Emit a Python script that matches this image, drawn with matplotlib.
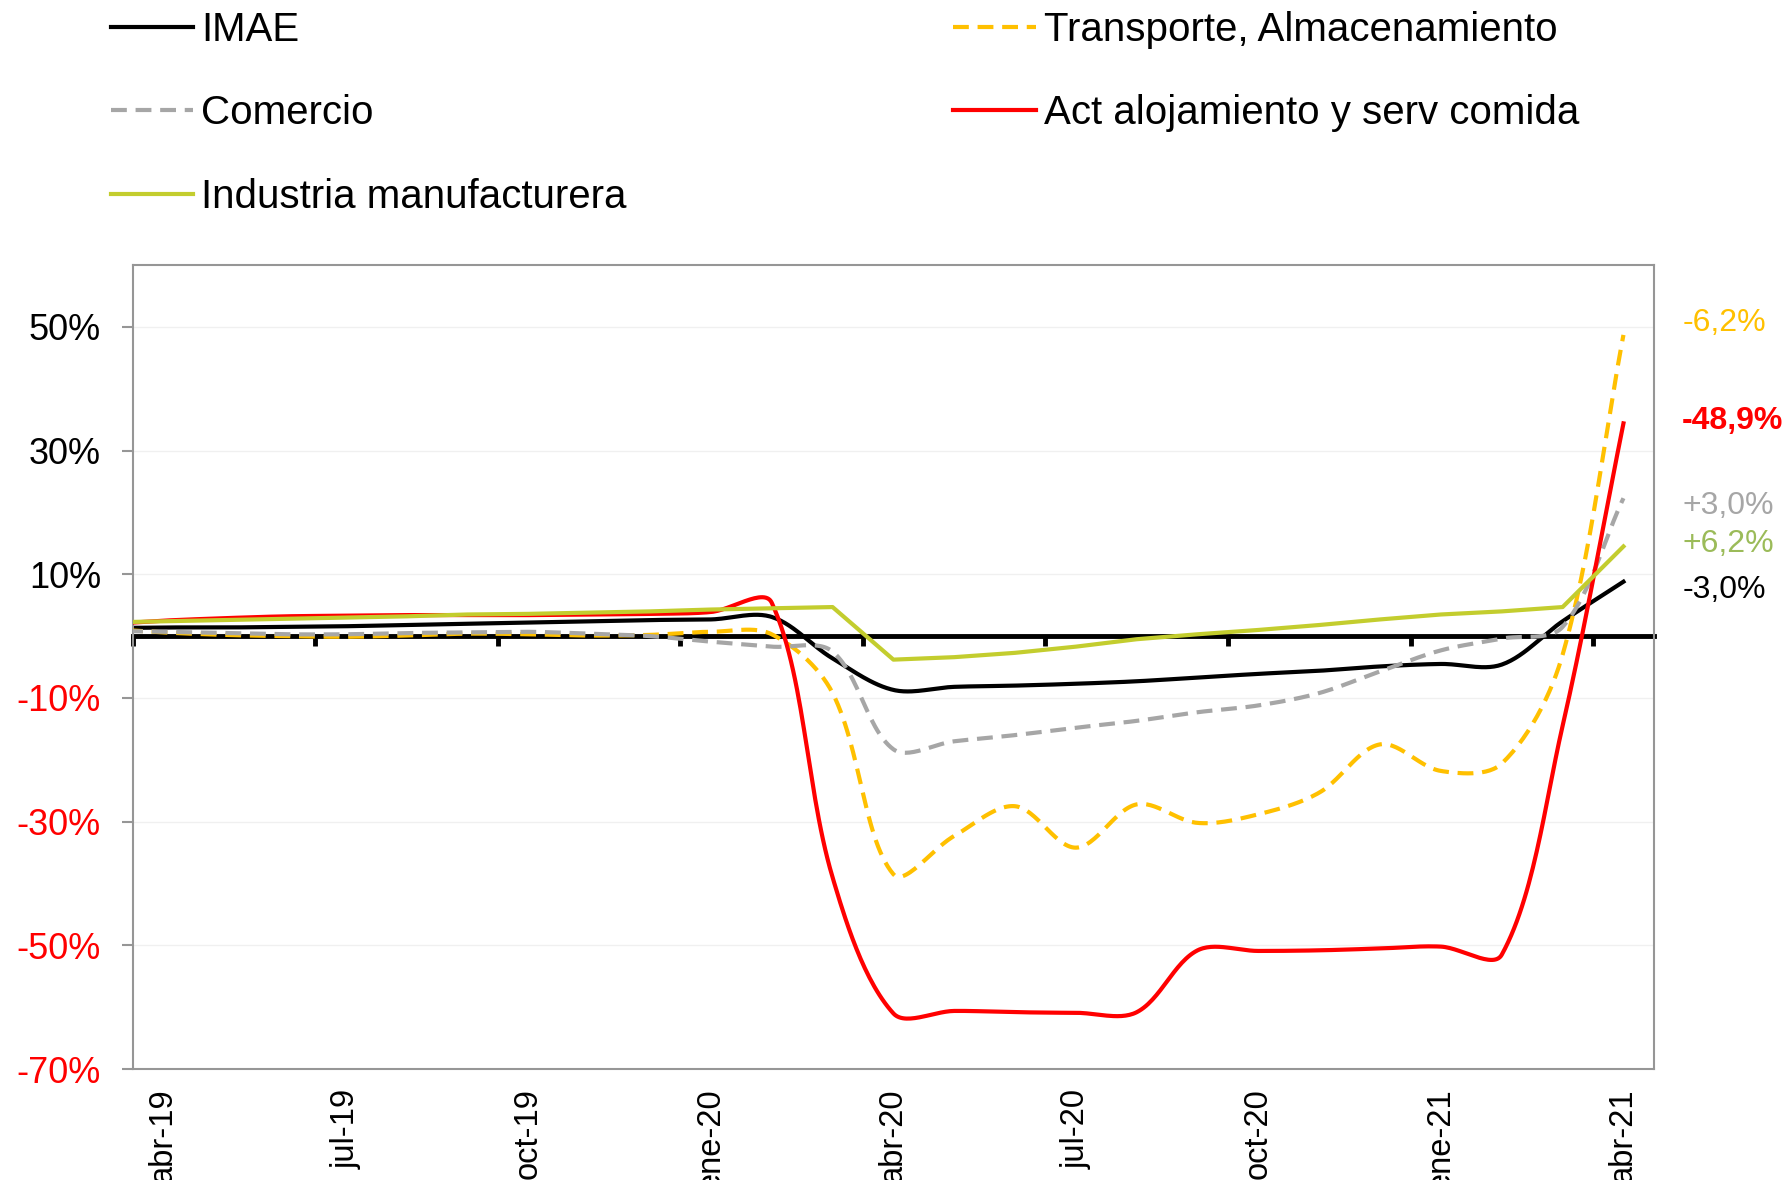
import matplotlib
matplotlib.use('Agg')
import matplotlib.pyplot as plt
import numpy as np

plt.rcParams['font.family'] = ['Liberation Sans', 'DejaVu Sans']

# meses (mar-19 queda fuera del eje, solo entra recortada por la izquierda)
meses = ['mar-19', 'abr-19', 'may-19', 'jun-19', 'jul-19', 'ago-19', 'sep-19', 'oct-19', 'nov-19',
         'dic-19', 'ene-20', 'feb-20', 'mar-20', 'abr-20', 'may-20', 'jun-20', 'jul-20', 'ago-20',
         'sep-20', 'oct-20', 'nov-20', 'dic-20', 'ene-21', 'feb-21', 'mar-21', 'abr-21']

# variacion interanual (%)
imae = [1.3, 1.4, 1.4, 1.5, 1.6, 1.8, 2.0, 2.2, 2.4, 2.6, 2.7, 3.1, -3.6,
        -8.7, -8.2, -8.0, -7.7, -7.3, -6.7, -6.1, -5.6, -4.9, -4.5, -4.6, 2.4, 8.8]
comercio = [0.9, 0.7, 0.5, 0.3, 0.3, 0.5, 0.6, 0.7, 0.4, 0.0, -0.9, -1.7, -2.5,
            -18.3, -17.0, -16.0, -14.8, -13.7, -12.3, -11.2, -9.2, -5.7, -2.3, -0.4, 1.5, 22.3]
industria = [2.2, 2.4, 2.6, 2.8, 3.0, 3.2, 3.5, 3.6, 3.8, 4.0, 4.3, 4.5, 4.7,
             -3.8, -3.4, -2.7, -1.7, -0.5, 0.3, 1.0, 1.8, 2.7, 3.5, 4.0, 4.7, 14.5]
transporte = [1.2, 0.6, 0.2, 0.0, -0.1, 0.1, 0.4, 0.3, 0.1, 0.2, 0.7, 0.3, -9.2,
              -38.5, -32.3, -27.5, -34.2, -27.2, -30.2, -28.8, -25.3, -17.5, -21.8, -20.6, -3.0, 48.7]
alojamiento = [1.9, 2.5, 2.9, 3.2, 3.3, 3.4, 3.4, 3.4, 3.5, 3.6, 3.9, 5.4, -39.0,
               -61.0, -60.6, -60.8, -60.9, -60.8, -50.8, -50.9, -50.8, -50.5, -50.2, -51.5, -14.5, 34.4]

# etiquetas de la derecha
etiquetas = ['-6,2%', '-48,9%', '+3,0%', '+6,2%', '-3,0%']
etiq_colores = ['#FFC000', '#FF0000', '#A6A6A6', '#9BBB59', 'black']
etiq_y = [0.726, 0.643, 0.571, 0.539, 0.500]
etiq_peso = ['normal', 'bold', 'normal', 'normal', 'normal']

yticks = [-70, -50, -30, -10, 10, 30, 50]

# px por mes / px por punto, para suavizar como excel
SX = 60.8
SY = 6.19


def suavizar(x, y, t=1 / 3, n=30):
    P = np.column_stack([np.asarray(x, float) * SX, np.asarray(y, float) * SY])
    N = len(P)
    ca = P.copy()
    cb = P.copy()
    for i in range(N):
        p0 = P[max(i - 1, 0)]
        p2 = P[min(i + 1, N - 1)]
        d01 = np.hypot(*(P[i] - p0))
        d12 = np.hypot(*(p2 - P[i]))
        tot = d01 + d12
        if tot == 0:
            continue
        ca[i] = P[i] - t * d01 / tot * (p2 - p0)
        cb[i] = P[i] + t * d12 / tot * (p2 - p0)
    s = np.linspace(0, 1, n)[1:, None]
    pts = [P[:1]]
    for i in range(N - 1):
        seg = ((1 - s) ** 3 * P[i] + 3 * (1 - s) ** 2 * s * cb[i]
               + 3 * (1 - s) * s ** 2 * ca[i + 1] + s ** 3 * P[i + 1])
        pts.append(seg)
    pts = np.vstack(pts)
    return pts[:, 0] / SX, pts[:, 1] / SY


x = np.arange(len(meses)) - 0.5

fig = plt.figure(figsize=(17.82, 11.80), dpi=100)
rect = [0.0746, 0.094, 0.8535, 0.6814]

# eje del cero con sus marcas (debajo de las series)
ax0 = fig.add_axes(rect)
ax0.set_xlim(0, 25)
ax0.set_ylim(-70, 60)
for s in ['top', 'left', 'right']:
    ax0.spines[s].set_visible(False)
ax0.spines['bottom'].set_position(('data', 0))
ax0.spines['bottom'].set_linewidth(3.5)
ax0.set_xticks(np.arange(0, 25, 3))
ax0.set_yticks([])
ax0.tick_params(axis='x', direction='out', length=7, width=3.5, color='black', labelbottom=False)

ax = fig.add_axes(rect, zorder=2)
ax.patch.set_alpha(0)
ax.set_xlim(0, 25)
ax.set_ylim(-70, 60)

lw = 3.0
dash = (3.8, 2.1)
l1, = ax.plot(*suavizar(x, imae), color='black', lw=lw, zorder=2, label='IMAE')
l4, = ax.plot(*suavizar(x, transporte), color='#FFC000', lw=lw, dashes=dash, zorder=3,
              label='Transporte, Almacenamiento')
l2, = ax.plot(*suavizar(x, comercio), color='#A6A6A6', lw=lw, dashes=dash, zorder=4,
              label='Comercio')
l5, = ax.plot(*suavizar(x, alojamiento), color='#FF0000', lw=lw, zorder=5,
              label='Act alojamiento y serv comida')
l3, = ax.plot(x, industria, color='#C3CD2E', lw=lw, zorder=6, label='Industria manufacturera')

# ejes
for s in ax.spines.values():
    s.set_color('#969696')
    s.set_linewidth(1.5)
ax.set_yticks(yticks)
ax.set_yticklabels([f'{v}%' for v in yticks])
for lab, v in zip(ax.get_yticklabels(), yticks):
    lab.set_color('#FF0000' if v < 0 else 'black')
ax.tick_params(axis='y', labelsize=26, length=8, width=1.5, color='#969696', pad=15)
ax.grid(axis='y', color='#F0F0F0', lw=1)

ax.set_xticks(x[1::3])
ax.set_xticklabels(meses[1::3], rotation=90, va='top', ha='center')
ax.tick_params(axis='x', labelsize=23.5, length=0, pad=14)

# leyenda
fig.legend([l1, l2, l3, l4, l5], [l.get_label() for l in [l1, l2, l3, l4, l5]],
           loc='upper left', bbox_to_anchor=(0.0623, 0.991), ncol=2, frameon=False,
           fontsize=29, handlelength=2.04, handletextpad=0.2, columnspacing=8.11,
           labelspacing=1.13, borderpad=0, borderaxespad=0)

for txt, c, yy, w in zip(etiquetas, etiq_colores, etiq_y, etiq_peso):
    fig.text(0.944, yy, txt, color=c, fontsize=23, fontweight=w, ha='left', va='center')

plt.savefig('out.png', dpi=100)
